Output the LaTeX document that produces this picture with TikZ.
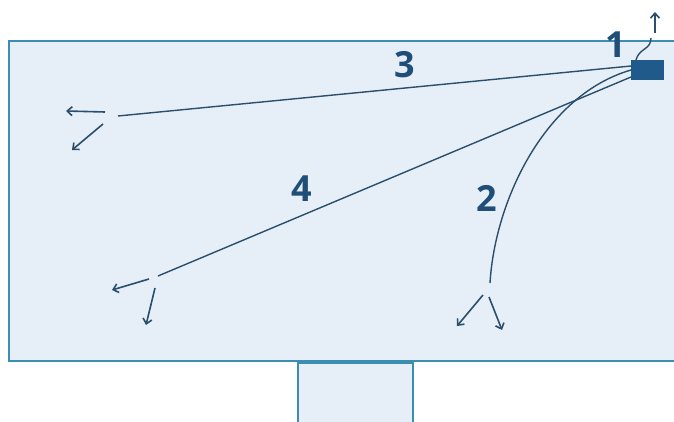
\documentclass[tikz,border=0pt]{standalone}
\usepackage{fontspec}
\setmainfont{Open Sans}
\usetikzlibrary{arrows.meta}
\definecolor{bgfill}{HTML}{E6EFF7}
\definecolor{frame}{HTML}{3C8DB4}
\definecolor{ray}{HTML}{2B4E6C}
\definecolor{srcblue}{HTML}{1F5A8A}
\definecolor{digit}{HTML}{1F4E79}
\begin{document}
\begin{tikzpicture}[x=1pt,y=-1pt,
  raystyle/.style={draw=ray,line width=1.4pt},
  arr/.style={raystyle,line width=1.6pt,-{Straight Barb[length=5pt,width=9pt]}},
  digitlabel/.style={text=digit,font=\fontsize{36}{36}\selectfont\bfseries,inner sep=0pt},
  panel/.style={fill=bgfill,draw=frame,line width=1.6pt}]
\useasboundingbox (0,0) rectangle (674,422);
\fill[white] (0,0) rectangle (674,422);
% main panel (extends beyond right edge)
\draw[panel] (680,41) -- (9,41) -- (9,361) -- (680,361);
% stand
\draw[panel] (298,424) -- (298,363) -- (413,363) -- (413,424);
% source
\node[fill=srcblue,minimum width=33pt,minimum height=20pt,inner sep=0pt] (src) at (647.5,70) {};
% free-end coordinates
\coordinate (e3) at (118,116);
\coordinate (e4) at (158,276);
\coordinate (e2) at (490,283);
\coordinate (e1) at (651,38);
\coordinate (s3) at (631,66);
\coordinate (s2) at (631,70);
\coordinate (s4) at (631,77);
\coordinate (s1) at (636,60);
% rays
\draw[raystyle] (s3) -- (e3);
\draw[raystyle] (s4) -- (e4);
\draw[raystyle] (s2) .. controls (545,95) and (495,200) .. (e2);
\draw[raystyle] (s1) .. controls (639,48) and (651,50) .. (e1);
% arrows at ends
\coordinate (a3a) at (105,112); \coordinate (b3a) at (66,111);
\coordinate (a3b) at (103,124); \coordinate (b3b) at (72,150);
\draw[arr] (a3a) -- (b3a);
\draw[arr] (a3b) -- (b3b);
\coordinate (a4a) at (149,279); \coordinate (b4a) at (112,290);
\coordinate (a4b) at (155,288); \coordinate (b4b) at (146,325);
\draw[arr] (a4a) -- (b4a);
\draw[arr] (a4b) -- (b4b);
\coordinate (a2a) at (483,295); \coordinate (b2a) at (457,326);
\coordinate (a2b) at (489,297); \coordinate (b2b) at (502,330);
\draw[arr] (a2a) -- (b2a);
\draw[arr] (a2b) -- (b2b);
\coordinate (a1) at (655,33); \coordinate (b1) at (655,12);
\draw[arr] (a1) -- (b1);
% labels
\node[digitlabel] (l1) at (616,45) {1};
\node[digitlabel] (l3) at (405,65) {3};
\node[digitlabel] (l4) at (302,189) {4};
\node[digitlabel] (l2) at (487,198) {2};
\end{tikzpicture}
\end{document}
